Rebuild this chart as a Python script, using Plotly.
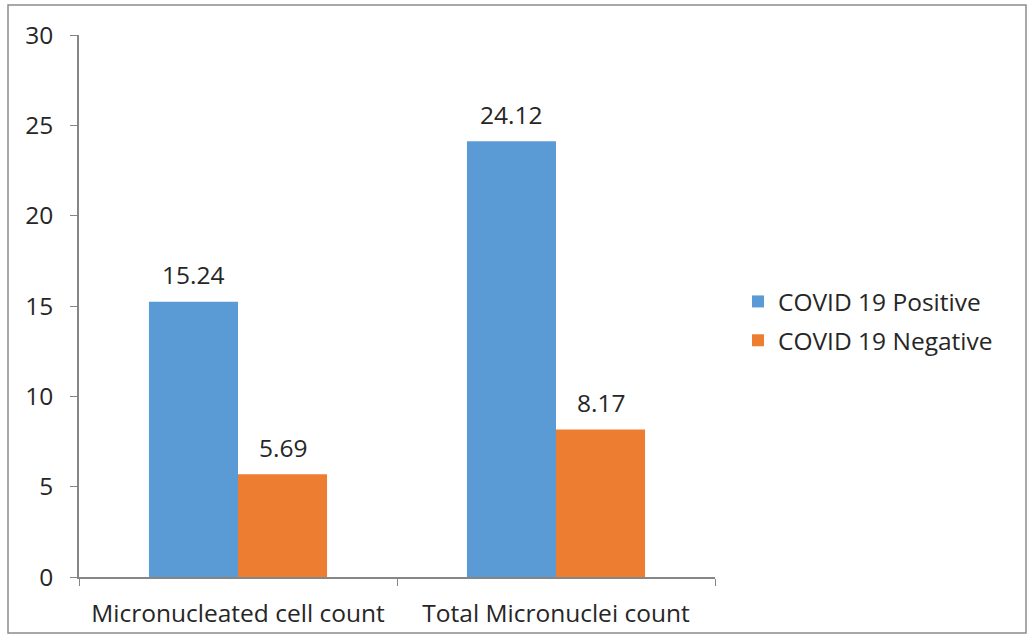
import plotly.graph_objects as go

categories = ["Micronucleated cell count", "Total Micronuclei count"]
positive = [15.24, 24.12]
negative = [5.69, 8.17]
series_names = ["COVID 19 Positive", "COVID 19 Negative"]
y_ticks = [0, 5, 10, 15, 20, 25, 30]

FONT = "Open Sans, sans-serif"
TXT = "#262626"
FS = 24.5

L, R, T, B = 79, 312, 35, 66
W, H = 1027, 643
pw, ph = W - L - R, H - T - B
BARGAP = 0.44
half_bar = (1 - BARGAP) * (pw / len(categories)) / 4

fig = go.Figure()
fig.add_trace(go.Bar(x=categories, y=positive, name=series_names[0], legendgroup="a",
                     marker=dict(color="#5B9BD5", line=dict(width=0))))
fig.add_trace(go.Bar(x=categories, y=negative, name=series_names[1], legendgroup="b",
                     marker=dict(color="#ED7D31", line=dict(width=0))))

annotations = []
for vals, sh in ((positive, -half_bar), (negative, half_bar)):
    for c, v in zip(categories, vals):
        annotations.append(dict(x=c, y=v, xref="x", yref="y", text=f"{v:.2f}",
                                showarrow=False, xshift=sh, yshift=27, yanchor="middle",
                                font=dict(size=FS, color=TXT, family=FONT)))

fig.update_layout(
    width=W, height=H,
    margin=dict(l=L, r=R, t=T, b=B, pad=0),
    paper_bgcolor="white", plot_bgcolor="white",
    barmode="group", bargap=BARGAP, bargroupgap=0,
    font=dict(family=FONT, size=FS, color=TXT),
    showlegend=True,
    legend=dict(x=(738 - L) / pw, y=(577 - 321) / ph, xanchor="left", yanchor="middle",
                font=dict(size=FS, color=TXT, family=FONT), traceorder="grouped",
                tracegroupgap=4, itemwidth=30, bgcolor="rgba(0,0,0,0)"),
    xaxis=dict(showline=True, linecolor="#868686", linewidth=1.5,
               ticks="outside", tickson="boundaries", ticklen=7, tickcolor="#868686",
               showgrid=False, tickfont=dict(size=FS, color=TXT), ticklabelstandoff=14),
    yaxis=dict(range=[0, 30], tickvals=y_ticks, showline=True, linecolor="#868686",
               linewidth=1.5, ticks="outside", ticklen=7, tickcolor="#868686",
               showgrid=False, zeroline=False, tickfont=dict(size=FS, color=TXT),
               ticklabelstandoff=12),
    annotations=annotations,
    shapes=[dict(type="rect", xref="paper", yref="paper",
                 x0=(8 - L) / pw, x1=(1026 - L) / pw,
                 y0=(577 - 633) / ph, y1=(577 - 5) / ph,
                 line=dict(color="#8c8c8c", width=1.5), fillcolor="rgba(0,0,0,0)", layer="below")],
)

fig.write_html("out.html")
